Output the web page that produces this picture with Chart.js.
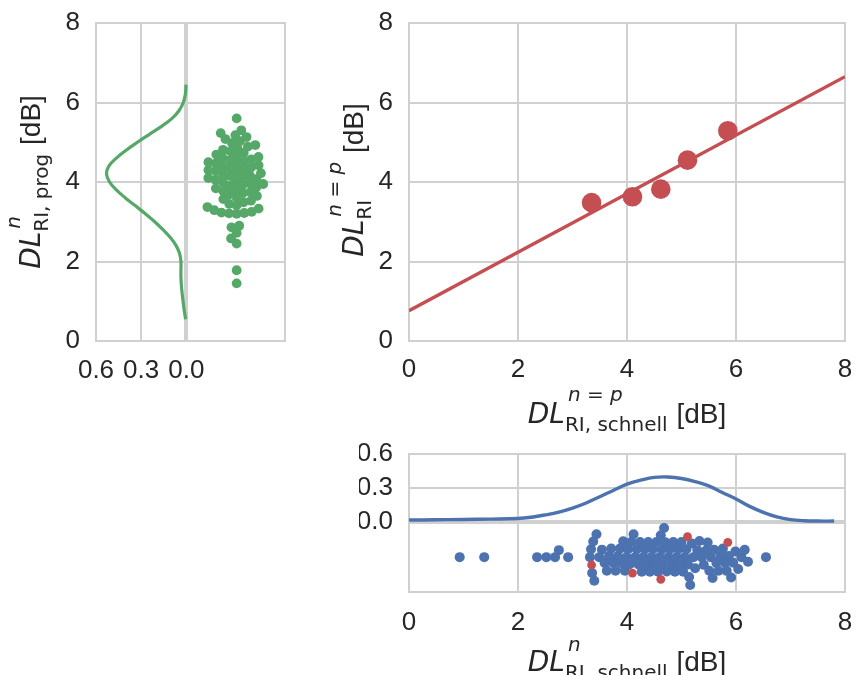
<!DOCTYPE html>
<html><head><meta charset="utf-8">
<script src="https://cdn.jsdelivr.net/npm/chart.js@4"></script>
<style>
html,body{margin:0;padding:0;background:#fff;}
#wrap{position:relative;width:858px;height:675px;overflow:hidden;background:#fff;}
canvas{position:absolute;left:0;top:0;}
</style></head><body>
<div id="wrap">
<canvas id="cLeft" width="858" height="675"></canvas>
<canvas id="cMain" width="858" height="675"></canvas>
<canvas id="cBottom" width="858" height="675"></canvas>
</div>
<script>
// ---------------- data ----------------
const axisTicks = [0, 2, 4, 6, 8];
const densityTicks = [0.6, 0.3, 0.0];

// n = p pairs (x: schnell, y: prog)
const pairSchnell = [3.35, 4.10, 4.62, 5.11, 5.85];
const pairProg    = [3.48, 3.63, 3.82, 4.55, 5.29];

// regression line
const fitX = [0, 8];
const fitY = [0.76, 6.65];

// DL^n_RI,prog (green swarm)
const progValues = [1.45, 1.78,
  2.45, 2.58, 2.72, 2.86, 2.90,
  3.20, 3.21, 3.22, 3.23, 3.25,
  3.29, 3.33, 3.37, 3.41, 3.45, 3.49, 3.53, 3.57, 3.61, 3.65, 3.69, 3.72, 3.75, 3.78, 3.81, 3.84, 3.87,
  3.90, 3.92, 3.95, 3.97, 4.00, 4.02, 4.05, 4.07, 4.10, 4.12, 4.15, 4.17, 4.20, 4.22, 4.25, 4.27,
  4.30, 4.32, 4.35, 4.37, 4.40, 4.42, 4.45, 4.47, 4.50, 4.52, 4.55, 4.57, 4.60, 4.63, 4.66, 4.69,
  4.73, 4.77, 4.81, 4.85, 4.89, 4.93, 4.98, 5.03, 5.08, 5.13, 5.18, 5.23, 5.30,
  5.60];

// KDE of prog values
const progKdeY = [0.55, 0.80, 1.00, 1.20, 1.40, 1.60, 1.80, 2.00, 2.20, 2.40, 2.60, 2.80, 3.00, 3.20, 3.40,
  3.60, 3.80, 4.00, 4.20, 4.40, 4.60, 4.80, 5.00, 5.20, 5.40, 5.60, 5.80, 6.00, 6.20, 6.45];
const progKdeD = [0.005, 0.015, 0.022, 0.028, 0.033, 0.036, 0.036, 0.036, 0.045, 0.068, 0.105, 0.155, 0.210, 0.272, 0.338,
  0.405, 0.465, 0.510, 0.530, 0.515, 0.465, 0.400, 0.325, 0.245, 0.165, 0.095, 0.048, 0.020, 0.007, 0.002];

// DL^n_RI,schnell (blue swarm, the n = p values are added in red)
const schnellValues = [0.93, 1.38, 2.35, 2.52, 2.68, 2.75, 2.92,
  3.32, 3.34, 3.36, 3.38, 3.40,
  3.44, 3.49, 3.54, 3.59, 3.63, 3.67, 3.71, 3.75, 3.79, 3.83, 3.87, 3.90, 3.93, 3.96, 3.99,
  4.02, 4.05, 4.08, 4.12, 4.15, 4.18, 4.21, 4.24, 4.27, 4.30, 4.33, 4.36, 4.39, 4.42, 4.45, 4.48,
  4.51, 4.54, 4.57, 4.60, 4.62, 4.64, 4.66, 4.68, 4.70, 4.73, 4.76, 4.79, 4.82, 4.85,
  4.88, 4.91, 4.94, 4.97, 5.00, 5.03, 5.06, 5.09, 5.12, 5.14, 5.16, 5.19, 5.22, 5.25, 5.29, 5.33,
  5.37, 5.41, 5.45, 5.48, 5.51, 5.54, 5.57, 5.60, 5.64, 5.68, 5.72, 5.76, 5.80, 5.83, 5.87, 5.91,
  5.95, 5.99, 6.04, 6.10, 6.16, 6.22,
  6.55];

// KDE of schnell values
const schnellKdeX = [0.00, 0.50, 1.00, 1.50, 2.00, 2.25, 2.50, 2.75, 3.00, 3.25, 3.50, 3.75, 4.00, 4.25,
  4.50, 4.75, 5.00, 5.25, 5.50, 5.75, 6.00, 6.25, 6.50, 6.75, 7.00, 7.25, 7.50, 7.80];
const schnellKdeD = [0.020, 0.022, 0.025, 0.028, 0.033, 0.045, 0.065, 0.090, 0.125, 0.170, 0.225, 0.280, 0.335, 0.370,
  0.395, 0.398, 0.385, 0.358, 0.320, 0.262, 0.205, 0.140, 0.088, 0.048, 0.024, 0.014, 0.011, 0.011];

// ---------------- style / layout ----------------
const W = 858, H = 675, YW = 50, XH = 40;
const GREEN = '#55A868', RED = '#C44E52', BLUE = '#4C72B0', GRID = '#d0d0d0', TEXT = '#262626';
const TICK_FONT = {family: '"Liberation Sans", Arial, sans-serif', size: 26};
const areaLeft = {l: 96, t: 23, r: 285, b: 341};
const areaMain = {l: 409, t: 23, r: 845, b: 341};
const areaBottom = {l: 409, t: 454, r: 845, b: 592};
const leftX = {min: -0.655, max: 0.6, swarmAt: -0.334};
const bottomY = {min: -0.612, max: 0.6, swarmAt: -0.306};

function pad(a) {
  return {left: a.l - YW, top: a.t, right: W - a.r, bottom: H - a.b - XH};
}
function fixY(s) { s.width = YW; s.paddingTop = 0; s.paddingBottom = 0; }
function fixX(s) { s.height = XH; s.paddingLeft = 0; s.paddingRight = 0; }

function beeswarm(values, pxPerUnit, d) {
  const idx = values.map((v, i) => i).sort((a, b) => values[a] - values[b]);
  const placed = [];
  const offs = new Array(values.length).fill(0);
  for (const i of idx) {
    const p = values[i] * pxPerUnit;
    const nb = placed.filter(q => Math.abs(q.p - p) < d);
    const cands = [0];
    for (const q of nb) {
      const dd = Math.sqrt(d * d - (q.p - p) * (q.p - p));
      cands.push(q.o + dd, q.o - dd);
    }
    cands.sort((a, b) => Math.abs(a) - Math.abs(b));
    let chosen = 0;
    for (const c of cands) {
      if (nb.every(q => (q.p - p) ** 2 + (q.o - c) ** 2 >= d * d - 1e-6)) { chosen = c; break; }
    }
    placed.push({p, o: chosen});
    offs[i] = chosen;
  }
  return offs;
}

const framePlugin = {
  id: 'frame',
  beforeDatasetsDraw(chart) {
    const a = chart.chartArea, ctx = chart.ctx;
    ctx.save();
    ctx.strokeStyle = GRID; ctx.lineWidth = 2;
    ctx.strokeRect(a.left, a.top, a.right - a.left, a.bottom - a.top);
    ctx.restore();
  }
};

function drawMath(ctx, s) {
  const fBase = 'italic 28px "DejaVu Sans"';
  const fSup = 'italic 20px "DejaVu Sans"';
  const fSub = '20px "DejaVu Sans"';
  const fTail = '28px "Liberation Sans"';
  ctx.save();
  ctx.translate(s.x, s.y);
  ctx.rotate(s.rot || 0);
  ctx.fillStyle = TEXT; ctx.textBaseline = 'alphabetic'; ctx.textAlign = 'left';
  ctx.font = fBase; const wb = ctx.measureText(s.base).width;
  ctx.font = fSup; const wsup = s.sup ? ctx.measureText(s.sup).width + 3 : 0;
  ctx.font = fSub; const wsub = s.sub ? ctx.measureText(s.sub).width : 0;
  ctx.font = fTail; const wt = ctx.measureText(s.tail).width;
  const ws = Math.max(wsup, wsub) + 1;
  let cx = -(wb + ws + wt) / 2;
  ctx.font = fBase; ctx.fillText(s.base, cx, 0); cx += wb;
  if (s.sup) { ctx.font = fSup; ctx.fillText(s.sup, cx + 3, -s.supShift); }
  if (s.sub) { ctx.font = fSub; ctx.fillText(s.sub, cx, s.subShift); }
  cx += ws;
  ctx.font = fTail; ctx.fillText(s.tail, cx, 0);
  ctx.restore();
}
const mathPlugin = {
  id: 'mathTitles',
  afterDraw(chart, args, opts) {
    (opts.items || []).forEach(s => drawMath(chart.ctx, s));
  }
};

function gridOpts(zeroThick) {
  return {
    color: GRID,
    lineWidth: c => (zeroThick && c.tick && c.tick.value === 0) ? 4 : 2,
    drawTicks: false
  };
}
function tickOpts(padding, cb) {
  const o = {color: TEXT, font: TICK_FONT, padding: padding, maxRotation: 0, autoSkip: false};
  if (cb) o.callback = cb;
  return o;
}
const setTicks = arr => s => { s.ticks = arr.map(v => ({value: v})); };
const fmt1 = v => Number(v).toFixed(1);

Chart.defaults.animation = false;

// ---------------- left panel ----------------
const progOffs = beeswarm(progValues, (areaLeft.b - areaLeft.t) / 8, 7.6);
const leftPxPerUnit = (areaLeft.r - areaLeft.l) / (leftX.max - leftX.min);
new Chart(document.getElementById('cLeft'), {
  type: 'scatter',
  data: {
    datasets: [
      {
        data: progValues.map((v, i) => ({x: leftX.swarmAt + progOffs[i] / leftPxPerUnit, y: v})),
        backgroundColor: GREEN, borderWidth: 0, pointRadius: 4.9, pointHoverRadius: 4.9, order: 1
      },
      {
        data: progKdeY.map((v, i) => ({x: progKdeD[i], y: v})),
        showLine: true, borderColor: GREEN, borderWidth: 3.2, pointRadius: 0, tension: 0.4,
        fill: false, order: 2
      }
    ]
  },
  options: {
    responsive: false, devicePixelRatio: 1,
    layout: {padding: pad(areaLeft)},
    plugins: {legend: {display: false}, tooltip: {enabled: false},
      mathTitles: {items: [{x: 40, y: 182, rot: -Math.PI / 2, base: 'DL', sup: 'n', sub: 'RI, prog', tail: ' [dB]', supShift: 20, subShift: 8}]}},
    scales: {
      x: {type: 'linear', reverse: true, min: leftX.min, max: leftX.max,
        afterBuildTicks: setTicks(densityTicks), afterFit: fixX,
        grid: gridOpts(true), border: {display: false}, ticks: tickOpts(14, fmt1)},
      y: {type: 'linear', min: 0, max: 8, afterBuildTicks: setTicks(axisTicks), afterFit: fixY,
        grid: gridOpts(false), border: {display: false}, ticks: tickOpts(16)}
    }
  },
  plugins: [framePlugin, mathPlugin]
});

// ---------------- main panel ----------------
new Chart(document.getElementById('cMain'), {
  type: 'scatter',
  data: {
    datasets: [
      {
        data: pairSchnell.map((v, i) => ({x: v, y: pairProg[i]})),
        backgroundColor: RED, borderWidth: 0, pointRadius: 9.8, pointHoverRadius: 9.8, order: 1
      },
      {
        data: fitX.map((v, i) => ({x: v, y: fitY[i]})),
        showLine: true, borderColor: RED, borderWidth: 3.4, pointRadius: 0, order: 2
      }
    ]
  },
  options: {
    responsive: false, devicePixelRatio: 1,
    layout: {padding: pad(areaMain)},
    plugins: {legend: {display: false}, tooltip: {enabled: false},
      mathTitles: {items: [
        {x: 627, y: 423, rot: 0, base: 'DL', sup: 'n = p', sub: 'RI, schnell', tail: ' [dB]', supShift: 22, subShift: 8},
        {x: 363, y: 180, rot: -Math.PI / 2, base: 'DL', sup: 'n = p', sub: 'RI', tail: ' [dB]', supShift: 22, subShift: 8}
      ]}},
    scales: {
      x: {type: 'linear', min: 0, max: 8, afterBuildTicks: setTicks(axisTicks), afterFit: fixX,
        grid: gridOpts(false), border: {display: false}, ticks: tickOpts(13)},
      y: {type: 'linear', min: 0, max: 8, afterBuildTicks: setTicks(axisTicks), afterFit: fixY,
        grid: gridOpts(false), border: {display: false}, ticks: tickOpts(16)}
    }
  },
  plugins: [framePlugin, mathPlugin]
});

// ---------------- bottom panel ----------------
const allSchnell = schnellValues.concat(pairSchnell);
const schOffs = beeswarm(allSchnell, (areaBottom.r - areaBottom.l) / 8, 8);
const bottomPxPerUnit = (areaBottom.b - areaBottom.t) / (bottomY.max - bottomY.min);
const nBlue = schnellValues.length;
new Chart(document.getElementById('cBottom'), {
  type: 'scatter',
  data: {
    datasets: [
      {
        data: pairSchnell.map((v, i) => ({x: v, y: bottomY.swarmAt + schOffs[nBlue + i] / bottomPxPerUnit})),
        backgroundColor: RED, borderWidth: 0, pointRadius: 4.4, pointHoverRadius: 4.4, order: 0
      },
      {
        data: schnellValues.map((v, i) => ({x: v, y: bottomY.swarmAt + schOffs[i] / bottomPxPerUnit})),
        backgroundColor: BLUE, borderWidth: 0, pointRadius: 5, pointHoverRadius: 5, order: 1
      },
      {
        data: schnellKdeX.map((v, i) => ({x: v, y: schnellKdeD[i]})),
        showLine: true, borderColor: BLUE, borderWidth: 3.4, pointRadius: 0, tension: 0.4, order: 2
      }
    ]
  },
  options: {
    responsive: false, devicePixelRatio: 1,
    layout: {padding: pad(areaBottom)},
    plugins: {legend: {display: false}, tooltip: {enabled: false},
      mathTitles: {items: [
        {x: 627, y: 671, rot: 0, base: 'DL', sup: 'n', sub: 'RI, schnell', tail: ' [dB]', supShift: 20, subShift: 8}
      ]}},
    scales: {
      x: {type: 'linear', min: 0, max: 8, afterBuildTicks: setTicks(axisTicks), afterFit: fixX,
        grid: gridOpts(false), border: {display: false}, ticks: tickOpts(15)},
      y: {type: 'linear', min: bottomY.min, max: bottomY.max, afterBuildTicks: setTicks(densityTicks), afterFit: fixY,
        grid: gridOpts(true), border: {display: false}, ticks: tickOpts(16, fmt1)}
    }
  },
  plugins: [framePlugin, mathPlugin]
});
</script>
</body></html>
